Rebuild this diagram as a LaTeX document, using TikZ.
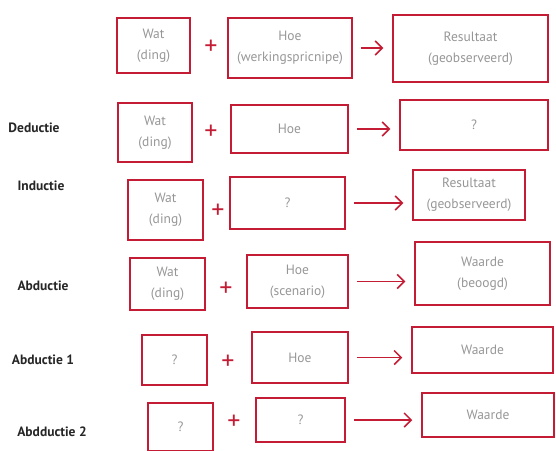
\documentclass[tikz,border=0pt]{standalone}
\usepackage{fontspec}
\setmainfont{PT Sans}
\usetikzlibrary{arrows.meta}

\definecolor{sketchred}{RGB}{196,28,52}
\definecolor{boxgray}{RGB}{150,150,150}

\begin{document}
\begin{tikzpicture}[x=1pt, y=-1pt,
  box/.style={draw=sketchred, line width=1.5pt, inner sep=0pt, align=center,
    text=boxgray, font=\fontsize{13.5}{21}\selectfont},
  plus/.style={text=sketchred, font=\fontsize{26}{26}\selectfont},
  rowlabel/.style={font=\fontsize{13.5}{15}\selectfont\bfseries, text=black!85},
  arr/.style={-{Straight Barb[length=7pt, width=14pt]}, line width=1.5pt, sketchred,
    shorten <=8pt, shorten >=9pt}]

  \useasboundingbox (0,0) rectangle (556,450);

  % top row
  \node[box, minimum width=73, minimum height=55] (wA) at (153.5,45.5) {Wat\\(ding)};
  \node[plus] (pA) at (211,47) {+};
  \node[box, minimum width=124, minimum height=60] (hA) at (290,48) {Hoe\\(werkingspricnipe)};
  \node[box, minimum width=155, minimum height=67] (rA) at (470.5,48.5) {Resultaat\\(geobserveerd)};
  \draw[arr] (hA.east) -- (hA.east -| rA.west);

  % deductie
  \node[rowlabel] (lB) at (34,128) {Deductie};
  \node[box, minimum width=74, minimum height=59] (wB) at (155,132.5) {Wat\\(ding)};
  \node[plus] (pB) at (211,132) {+};
  \node[box, minimum width=117, minimum height=48] (hB) at (289.5,129) {Hoe};
  \node[box, minimum width=148, minimum height=50] (qB) at (474,125) {?};
  \draw[arr] (hB.east) -- (hB.east -| qB.west);

  % inductie
  \node[rowlabel] (lC) at (41,186) {Inductie};
  \node[box, minimum width=75, minimum height=60] (wC) at (165.5,210) {Wat\\(ding)};
  \node[plus] (pC) at (218,211) {+};
  \node[box, minimum width=115, minimum height=52] (qC) at (287.5,203) {?};
  \node[box, minimum width=112, minimum height=50] (rC) at (469,195) {Resultaat\\(geobserveerd)};
  \draw[arr] (qC.east) -- (qC.east -| rC.west);

  % abductie
  \node[rowlabel] (lD) at (43,286) {Abductie};
  \node[box, minimum width=75, minimum height=52] (wD) at (167.5,284) {Wat\\(ding)};
  \node[plus] (pD) at (226,289) {+};
  \node[box, minimum width=101, minimum height=53] (hD) at (297.5,281.5) {Hoe\\(scenario)};
  \node[box, minimum width=135, minimum height=63] (rD) at (482.5,273.5) {Waarde\\(beoogd)};
  \draw[arr] (hD.east) -- (hD.east -| rD.west);

  \node[rowlabel] (lE) at (43,360) {Abductie 1};
  \node[box, minimum width=65, minimum height=50] (qE) at (174.5,360) {?};
  \node[plus] (pE) at (228,362) {+};
  \node[box, minimum width=96, minimum height=51] (hE) at (300,357.5) {Hoe};
  \node[box, minimum width=141, minimum height=46] (rE) at (482.5,350) {Waarde};
  \draw[arr] (hE.east) -- (hE.east -| rE.west);

  \node[rowlabel] (lF) at (52,432) {Abdductie 2};
  \node[box, minimum width=65, minimum height=48] (qF) at (180.5,427) {?};
  \node[plus] (pF) at (234,422) {+};
  \node[box, minimum width=89, minimum height=44] (hF) at (300.5,420) {?};
  \node[box, minimum width=132, minimum height=44] (rF) at (488,415) {Waarde};
  \draw[arr] (hF.east) -- (hF.east -| rF.west);
\end{tikzpicture}
\end{document}
